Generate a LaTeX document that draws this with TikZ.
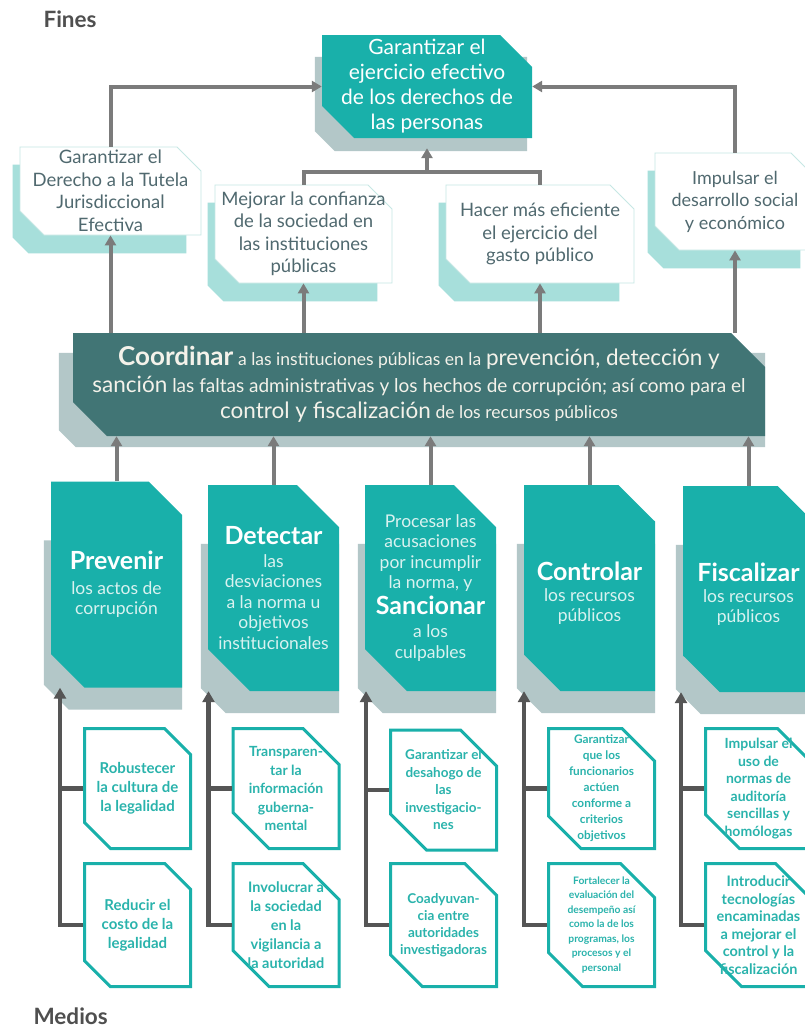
\documentclass[tikz,border=0pt]{standalone}
\usepackage{fontspec}
\setmainfont{Lato}
\usetikzlibrary{shapes.misc,arrows.meta,calc,backgrounds}

\definecolor{tealbox}{HTML}{19B0AA}
\definecolor{greyshade}{HTML}{B3C7C8}
\definecolor{barteal}{HTML}{417575}
\definecolor{bartext}{HTML}{F4F2EA}
\definecolor{lightshade}{HTML}{A7DFDB}
\definecolor{lightedge}{HTML}{C6E7E4}
\definecolor{slate}{HTML}{50696F}
\definecolor{paletext}{HTML}{D9F2F0}
\definecolor{tealtext}{HTML}{2AB3AC}
\definecolor{upgrey}{HTML}{7B7B7B}
\definecolor{lowgrey}{HTML}{555555}
\definecolor{headgrey}{HTML}{4F4F4F}

% shade behind a box: node, left, top, right, bottom, chamfer, colour
\newcommand\boxshade[7]{%
  \fill[#7] ($(#1.north -| #1.west) + (-#2, #3)$) -- ($(#1.north -| #1.east) + (-#4, #3)$)
    -- ($(#1.south -| #1.east) + (-#4, #5)$) -- ($(#1.south -| #1.west) + (#6-#2, #5)$)
    -- ($(#1.south -| #1.west) + (-#2, #5-#6)$) -- cycle;}
\newcommand\pillarhead[1]{{\fontsize{25}{29}\selectfont\bfseries\color{white}#1}}
\newcommand\barword[1]{{\fontsize{22.5}{26.5}\selectfont #1}}
\newcommand\barsmall[1]{{\fontsize{17.5}{26.5}\selectfont #1}}

\begin{document}
\begin{tikzpicture}[x = 1pt, y = -1pt,
                    chamf/.style     = {chamfered rectangle, chamfered rectangle corners = {north east, south west}, align = center},
                    goal/.style      = {chamf, chamfered rectangle sep = 16pt, inner sep = -16pt, fill = tealbox, text = white, minimum width = 210, minimum height = 103, font = \fontsize{21}{25}\selectfont},
                    purpose/.style   = {chamf, chamfered rectangle sep = 12pt, inner sep = -12pt, fill = white, draw = lightedge, line width = 0.8pt, text = slate, minimum height = 97, font = \fontsize{18.5}{22.5}\selectfont},
                    coordbar/.style  = {chamf, chamfered rectangle sep = 17pt, inner sep = -17pt, fill = barteal, text = bartext, minimum width = 692, minimum height = 103, font = \fontsize{19}{26.5}\selectfont},
                    pillar/.style    = {chamf, chamfered rectangle sep = 21pt, inner sep = -21pt, fill = tealbox, text = paletext, minimum width = 131, minimum height = 206, font = \fontsize{17.5}{20.5}\selectfont},
                    means/.style     = {chamf, chamfered rectangle xsep = 20pt, chamfered rectangle ysep = 16pt, inner xsep = -20pt, inner ysep = -16pt, fill = white, draw = tealbox, line width = 3pt, text = tealtext, minimum width = 106, font = \bfseries\fontsize{15}{19}\selectfont},
                    uparrow/.style   = {draw = upgrey, line width = 4pt, -{Triangle[length = 10pt, width = 11pt]}},
                    upline/.style    = {draw = upgrey, line width = 4pt},
                    lowarrow/.style  = {draw = lowgrey, line width = 4.5pt, -{Triangle[length = 11pt, width = 12pt]}},
                    lowline/.style   = {draw = lowgrey, line width = 4.5pt},
                    sidetitle/.style = {anchor = west, text = headgrey, font = \bfseries\fontsize{22.5}{25}\selectfont}
                    ]
    \path[use as bounding box] (0, 0) rectangle (804, 1028);

    \node[sidetitle] (fines) at (40, 19) {Fines};
    \node[sidetitle] (medios) at (30, 1016) {Medios};

    % fines
    \node[goal] (top) at (427, 86.5) {Garantizar el\\ ejercicio efectivo\\ de los derechos de\\ las personas};
    \node[purpose, minimum width = 181, minimum height = 88] (m1) at (110.5, 191) {Garantizar el\\ Derecho a la Tutela\\ Jurisdiccional\\ Efectiva};
    \node[purpose, minimum width = 177, minimum height = 98] (m2) at (303.5, 234) {Mejorar la confianza\\ de la sociedad en\\ las instituciones\\ públicas};
    \node[purpose, minimum width = 188, minimum height = 98] (m3) at (540, 234) {Hacer más eficiente\\ el ejercicio del\\ gasto público};
    \node[purpose, minimum width = 160, font = \fontsize{18}{22.5}\selectfont] (m4) at (735, 201.5) {Impulsar el\\ desarrollo social\\ y económico};

    \node[coordbar] (bar) at (419, 384.5) {{\fontsize{26}{26.5}\selectfont\bfseries Coordinar} \barsmall{a las instituciones públicas en la} \barword{prevención, detección y}\\
        \barword{sanción} las faltas administrativas y los hechos de corrupción; así como para el\\
        \barword{control y fiscalización} \barsmall{de los recursos públicos}};

    \node[pillar] (p1) at (116.5, 584.5) {\pillarhead{Prevenir}\\[4pt] los actos de\\ corrupción};
    \node[pillar] (p2) at (273.5, 588) {\pillarhead{Detectar}\\[2pt] las\\ desviaciones\\ a la norma u\\ objetivos\\ institucionales};
    \node[pillar] (p3) at (430.5, 588) {Procesar las\\ acusaciones\\ por incumplir\\ la norma, y\\[3pt] \pillarhead{Sancionar}\\[3pt] a los\\ culpables};
    \node[pillar] (p4) at (589.5, 588) {\pillarhead{\rule{0pt}{29pt}Controlar}\\ los recursos\\ públicos};
    \node[pillar] (p5) at (748.5, 589) {\pillarhead{\rule{0pt}{29pt}Fiscalizar}\\ los recursos\\ públicos};

    % medios
    \node[means, minimum height = 120] (b11) at (137.5, 788.5) {Robustecer\\ la cultura de\\ la legalidad};
    \node[means, minimum height = 123] (b12) at (137.5, 925) {Reducir el\\ costo de la\\ legalidad};
    \node[means, minimum height = 120, font = \bfseries\fontsize{14}{18.5}\selectfont] (b21) at (286, 788.5) {Transparen-\\ tar la\\ información\\ guberna-\\ mental};
    \node[means, minimum height = 123, font = \bfseries\fontsize{14.5}{19}\selectfont] (b22) at (286, 925) {Involucrar a\\ la sociedad\\ en la\\ vigilancia a\\ la autoridad};
    \node[means, minimum height = 120, font = \bfseries\fontsize{13.5}{17.5}\selectfont] (b31) at (443.5, 790) {Garantizar el\\ desahogo de\\ las\\ investigacio-\\ nes};
    \node[means, minimum height = 123, font = \bfseries\fontsize{13.5}{17}\selectfont] (b32) at (443.5, 925) {Coadyuvan-\\ cia entre\\ autoridades\\ investigadoras};
    \node[means, minimum height = 120, font = \bfseries\fontsize{11.8}{16}\selectfont] (b41) at (601.5, 788.5) {Garantizar\\ que los\\ funcionarios\\ actúen\\ conforme a\\ criterios\\ objetivos};
    \node[means, minimum height = 123, font = \bfseries\fontsize{10.3}{14.5}\selectfont] (b42) at (601.5, 925) {Fortalecer la\\ evaluación del\\ desempeño así\\ como la de los\\ programas, los\\ procesos y el\\ personal};
    \node[means, minimum height = 120, font = \bfseries\fontsize{14}{17.5}\selectfont] (b51) at (758.5, 788.5) {Impulsar el\\ uso de\\ normas de\\ auditoría\\ sencillas y\\ homólogas};
    \node[means, minimum height = 123, font = \bfseries\fontsize{14.5}{17.5}\selectfont] (b52) at (758.5, 925) {Introducir\\ tecnologías\\ encaminadas\\ a mejorar el\\ control y la\\ fiscalización};

    \begin{pgfonlayer}{background}
        \fill[white] (0, 0) rectangle (804, 1028);
        \boxshade{top}{7}{22}{5}{13}{20}{greyshade}
        \foreach \m in {m1, m2, m3, m4} {\boxshade{\m}{7}{18}{15}{18}{16}{lightshade}}
        \boxshade{bar}{14}{20}{0}{11}{17}{greyshade}
        \foreach \p in {p1, p2, p3, p4, p5} {\boxshade{\p}{7}{59}{0}{22}{25}{greyshade}}
    \end{pgfonlayer}

    % connectors
    \draw[uparrow] (m1.north) |- (top.west);
    \draw[uparrow] (m4.north) |- (top.east);
    \draw[upline] (m2.north) -- ++(0, -13) coordinate (j1) -| (m3.north);
    \draw[uparrow] (j1 -| top.south) -- ([yshift = -10pt]top.south);
    \foreach \m in {m1, m2, m3, m4} \draw[uparrow] (bar.north -| \m.south) -- (\m.south);
    \foreach \p in {p1, p2, p3, p4, p5} \draw[uparrow] (\p.north) -- (\p.north |- bar.south);
    \foreach \i in {1, ..., 5} {
        \draw[lowarrow] (b\i2.west) -- ++(-23, 0) coordinate (t\i) -- (t\i |- p\i.south);
        \draw[lowline] (b\i1.west) -- (b\i1.west -| t\i);
    }
\end{tikzpicture}
\end{document}
